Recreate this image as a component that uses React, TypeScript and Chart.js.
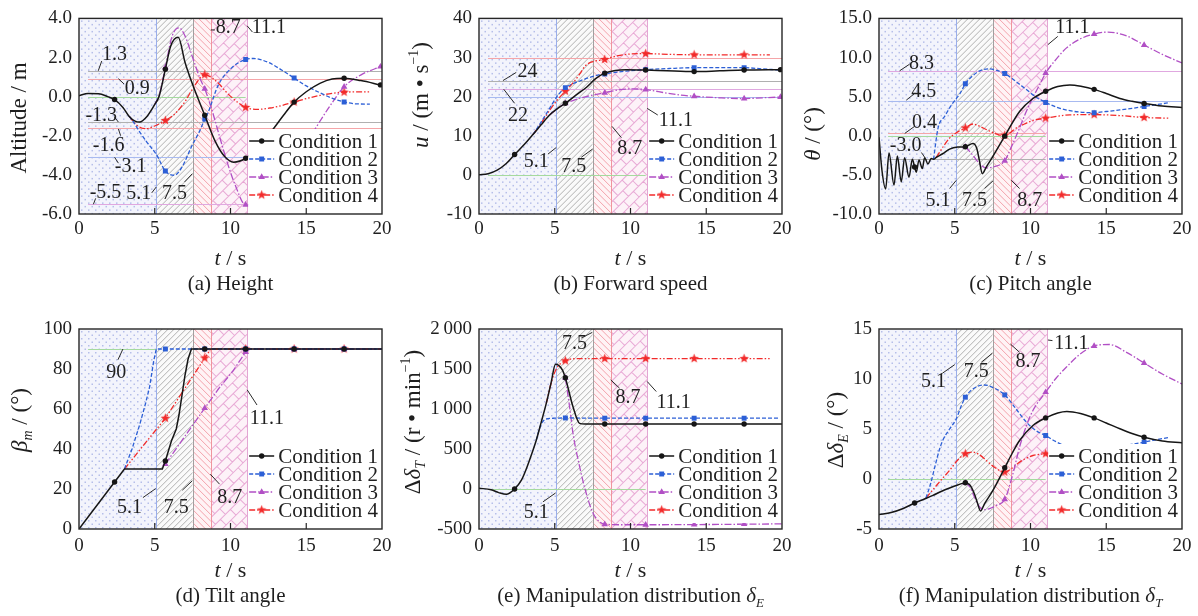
import React, { useEffect, useRef } from 'react';
import { Chart, registerables } from 'chart.js';

Chart.register(...registerables);

type P = [number, number];

/* ---------------- data ---------------- */
const tTicks = [0, 5, 10, 15, 20];
const phaseBounds = [0, 5.1, 7.5, 8.7, 11.1];
const markerTimes = [2.35, 5.7, 8.3, 11, 14.2, 17.5, 19.9];
const conditionNames = ['Condition 1', 'Condition 2', 'Condition 3', 'Condition 4'];
const refStart = 0.6;

// (a) Height
const heightC1: P[] = [[0, 0.05], [0.6, 0.16], [1.3, 0.15], [1.9, 0.0], [2.35, -0.15], [2.9, -0.55], [3.3, -1.0], [3.7, -1.25], [4.0, -1.3], [4.5, -1.0], [5.0, -0.4], [5.3, 0.05], [5.7, 1.4], [6.05, 2.58], [6.55, 3.03], [7.0, 1.75], [7.5, 0.62], [8.3, -0.95], [9.0, -2.3], [9.6, -3.05], [10.2, -3.35], [11, -3.15], [11.6, -2.7], [12.2, -2.2], [12.7, -1.77], [13.5, -0.95], [14.2, -0.28], [15.0, 0.25], [15.9, 0.68], [16.7, 0.9], [17.5, 0.94], [18.6, 0.82], [19.9, 0.6]];
const heightC2: P[] = [[3.3, -1.0], [3.6, -1.3], [4.0, -1.8], [4.5, -2.35], [5.1, -2.95], [5.7, -3.8], [6.3, -4.02], [6.8, -3.6], [7.4, -2.6], [8.0, -1.7], [8.3, -1.15], [8.5, -0.85], [9.2, 0.6], [10.1, 1.49], [11, 1.9], [11.5, 1.95], [12.5, 1.75], [13.4, 1.35], [14.2, 0.95], [15.0, 0.55], [15.9, 0.2], [16.7, -0.08], [17.5, -0.27], [18.3, -0.37], [19.2, -0.38]];
const heightC3: P[] = [[5.0, -0.4], [5.3, 0.1], [5.7, 1.5], [6.15, 3.1], [6.6, 3.52], [7.0, 3.1], [7.5, 2.0], [8.0, 0.9], [8.3, 0.4], [8.8, -0.75], [9.3, -2.1], [9.8, -3.4], [10.3, -4.5], [11, -5.53], [11.6, -5.5], [12.5, -5.1], [13.5, -4.3], [14.5, -3.1], [15.55, -1.7], [16.5, -0.55], [17.5, 0.5], [18.7, 1.15], [19.9, 1.53]];
const heightC4: P[] = [[3.3, -1.0], [3.8, -1.45], [4.4, -1.64], [5.0, -1.5], [5.7, -1.22], [6.3, -0.9], [7.0, -0.25], [7.5, 0.4], [8.3, 1.12], [8.8, 0.95], [9.25, 0.65], [9.7, 0.25], [10.1, -0.05], [11, -0.55], [11.8, -0.65], [12.6, -0.58], [13.4, -0.45], [14.2, -0.28], [15.0, -0.1], [15.9, 0.06], [16.7, 0.17], [17.5, 0.23], [18.4, 0.24], [19.2, 0.24]];
const heightRefs = [1.3, 0.9, 0, -1.3, -1.6, -3.1, -5.5];

// (b) Forward speed
const speedC1: P[] = [[0, 0], [0.6, 0.3], [1.2, 1.2], [1.8, 2.9], [2.35, 5.2], [3.0, 7.8], [3.56, 10.3], [4.1, 12.8], [4.66, 15.3], [5.2, 17.0], [5.7, 18.3], [6.4, 20.4], [7.1, 22.4], [7.7, 24.6], [8.3, 26.0], [9.0, 26.7], [9.7, 26.9], [11, 26.8], [12.4, 26.6], [14.2, 26.4], [15.9, 26.6], [17.5, 26.8], [19.9, 26.9]];
const speedC2: P[] = [[3.56, 10.3], [4.1, 13.5], [4.66, 17.0], [5.2, 20.3], [5.7, 22.3], [6.2, 23.3], [6.65, 24.0], [7.3, 24.9], [7.96, 25.6], [8.3, 25.8], [8.8, 26.1], [9.7, 26.5], [11, 26.9], [12.6, 27.2], [14.2, 27.4], [15.9, 27.4], [17.5, 27.4], [18.7, 27.1], [19.85, 26.8]];
const speedC3: P[] = [[4.66, 15.3], [5.2, 17.0], [5.7, 18.3], [6.2, 19.0], [6.65, 19.6], [7.4, 20.3], [8.3, 21.0], [9.2, 21.7], [10.1, 22.0], [11, 21.8], [12.4, 20.9], [13.3, 20.4], [14.2, 20.1], [15.9, 19.7], [17.5, 19.5], [18.7, 19.7], [19.9, 19.9]];
const speedC4: P[] = [[3.56, 10.3], [4.1, 13.2], [4.66, 16.5], [5.2, 19.3], [5.7, 21.4], [6.2, 23.5], [6.65, 25.8], [7.0, 27.8], [7.4, 28.8], [8.3, 29.5], [9.0, 30.3], [9.7, 30.8], [11, 31.0], [12.6, 30.8], [14.2, 30.7], [15.9, 30.7], [17.5, 30.7], [19.2, 30.7]];
const speedRefs = [30, 24, 22, 20, 0];

// (c) Pitch angle
const pitchC1: P[] = [[0, -0.2], [0.2, -4.5], [0.44, -6.8], [0.66, -2.2], [0.99, -6.3], [1.21, -2.6], [1.47, -5.9], [1.69, -2.8], [1.98, -5.3], [2.2, -3.0], [2.35, -4.0], [2.46, -4.65], [2.64, -3.1], [2.86, -4.2], [3.01, -2.8], [3.23, -3.6], [3.45, -2.9], [3.6, -3.0], [3.78, -2.77], [4.2, -2.3], [4.66, -1.7], [5.2, -1.45], [5.7, -1.4], [6.2, -1.0], [6.45, -1.6], [6.6, -2.9], [6.82, -4.85], [7.08, -4.0], [7.5, -2.7], [8.3, -0.05], [9.28, 3.1], [10.16, 4.76], [11, 5.68], [11.8, 6.3], [12.6, 6.5], [13.4, 6.3], [14.2, 5.93], [15.0, 5.4], [15.9, 4.76], [16.7, 4.4], [17.5, 4.13], [18.7, 3.8], [20, 3.6]];
const pitchC2: P[] = [[3.6, -3.0], [3.9, 1.0], [4.33, 2.46], [4.77, 3.9], [5.1, 4.76], [5.35, 5.4], [5.7, 6.64], [6.2, 7.7], [6.65, 8.3], [7.2, 8.55], [7.7, 8.4], [8.3, 7.95], [9.0, 7.0], [9.73, 5.9], [10.4, 4.9], [11, 4.26], [11.8, 3.6], [12.6, 3.2], [13.4, 3.0], [14.2, 2.95], [15.0, 3.1], [15.9, 3.3], [16.7, 3.5], [17.5, 3.75], [18.4, 4.0], [19.2, 4.25]];
const pitchC3: P[] = [[5.7, -1.4], [6.2, -2.5], [6.65, -3.6], [7.08, -4.1], [7.5, -4.0], [8.3, -3.2], [8.7, -1.6], [9.28, 1.0], [9.7, 3.0], [10.16, 4.9], [10.6, 6.5], [11, 8.0], [11.7, 9.8], [12.36, 11.2], [13.2, 12.3], [14.2, 13.0], [15.1, 13.25], [16.3, 12.8], [17.5, 11.6], [18.7, 10.4], [20, 9.3]];
const pitchC4: P[] = [[3.78, -2.77], [4.2, -1.5], [4.66, -0.3], [5.2, 0.5], [5.7, 1.0], [6.2, 1.5], [6.65, 1.2], [7.08, 0.8], [7.6, 0.35], [8.1, 0.03], [8.3, 0.06], [8.6, 0.3], [9.06, 1.0], [9.6, 1.5], [10.16, 1.96], [11, 2.25], [11.8, 2.5], [12.6, 2.67], [14.2, 2.7], [15.9, 2.58], [17.5, 2.33], [19.2, 2.25]];
const pitchRefs = [8.3, 4.5, 0.4, 0, -3.0];

// (d) Tilt angle
const tiltC1: P[] = [[0, 0], [2.35, 23.5], [3.0, 30], [5.5, 30], [5.7, 34], [6.1, 44], [6.42, 50], [6.6, 57], [6.82, 68], [7.0, 77], [7.2, 85], [7.42, 90], [8.3, 90], [11, 90], [14.2, 90], [17.5, 90], [20, 90]];
const tiltC2: P[] = [[3.0, 30], [3.5, 40], [4.0, 52], [4.4, 63], [4.66, 71], [4.93, 84], [5.1, 90], [5.7, 90], [8.3, 90], [11, 90], [14.2, 90], [17.5, 90], [20, 90]];
const tiltC3: P[] = [[5.7, 32.5], [7.0, 46.5], [8.3, 60.4], [9.2, 70], [10.16, 79], [11, 88.5], [11.3, 90], [14.2, 90], [17.5, 90], [20, 90]];
const tiltC4: P[] = [[3.0, 30], [5.7, 55.4], [8.3, 85.5], [8.7, 90], [11, 90], [14.2, 90], [17.5, 90], [20, 90]];
const tiltRefs = [90];

// (e) Manipulation distribution delta_E (throttle increment)
const distEC1: P[] = [[0, 10], [0.8, -10], [1.3, -45], [1.8, -67], [2.35, 0], [2.8, 110], [3.1, 240], [3.5, 450], [3.78, 610], [4.1, 830], [4.44, 1070], [4.75, 1320], [5.05, 1560], [5.5, 1490], [5.7, 1390], [6.2, 1030], [6.64, 820], [7.0, 812], [8.3, 812], [11, 812], [14.2, 812], [17.5, 812], [20, 812]];
const distEC2: P[] = [[3.78, 610], [4.0, 760], [4.2, 840], [4.44, 875], [5.0, 885], [5.7, 888], [8.3, 885], [11, 885], [14.2, 885], [17.5, 885], [19.85, 885]];
const distEC3: P[] = [[5.7, 1390], [6.0, 1000], [6.2, 700], [6.64, 280], [7.08, -56], [7.52, -300], [7.96, -410], [8.3, -441], [9.5, -447], [11, -447], [14.2, -445], [17.5, -440], [20, -436]];
const distEC4: P[] = [[4.44, 1070], [4.8, 1350], [5.1, 1500], [5.4, 1570], [5.7, 1603], [6.2, 1628], [7.0, 1630], [8.3, 1630], [11, 1630], [14.2, 1630], [17.5, 1630], [19.2, 1630]];
const distERefs = [0];

// (f) Manipulation distribution delta_T (elevator increment)
const distTC1: P[] = [[0, -3.55], [0.8, -3.35], [1.6, -2.95], [2.35, -2.4], [3.0, -2.0], [3.56, -1.64], [4.1, -1.25], [4.66, -0.9], [5.2, -0.6], [5.7, -0.37], [6.0, -0.6], [6.3, -1.5], [6.5, -2.4], [6.7, -3.2], [6.97, -2.47], [7.52, -1.14], [8.3, 1.12], [8.8, 2.6], [9.28, 3.85], [10.16, 5.35], [11, 6.11], [11.8, 6.6], [12.4, 6.75], [13.3, 6.55], [14.2, 6.11], [15.0, 5.6], [15.9, 5.02], [16.7, 4.55], [17.5, 4.18], [18.7, 3.8], [20, 3.62]];
const distTC2: P[] = [[3.1, -1.9], [3.4, -0.5], [3.7, 1.3], [4.0, 3.0], [4.22, 3.9], [4.66, 5.0], [5.1, 6.0], [5.4, 7.2], [5.7, 8.18], [6.3, 9.1], [6.97, 9.4], [7.6, 9.1], [8.3, 8.41], [9.0, 7.1], [9.73, 5.68], [10.4, 4.8], [11, 4.35], [11.6, 3.8], [12.15, 3.4], [13.2, 3.1], [14.2, 3.0], [15.5, 3.2], [16.8, 3.5], [17.5, 3.69], [18.4, 3.95], [19.2, 4.18]];
const distTC3: P[] = [[5.7, -0.37], [6.0, -0.8], [6.3, -1.8], [6.64, -2.8], [6.97, -3.07], [7.4, -2.9], [7.74, -2.64], [8.3, -2.04], [8.8, 0.3], [9.28, 3.2], [9.7, 5.2], [10.16, 6.85], [11, 8.68], [11.7, 10.1], [12.36, 11.17], [13.2, 12.4], [14.2, 13.3], [15.2, 13.45], [16.3, 12.7], [17.5, 11.6], [18.7, 10.5], [20, 9.5]];
const distTC4: P[] = [[3.1, -1.9], [3.6, -1.0], [4.1, -0.1], [4.66, 0.86], [5.2, 1.9], [5.7, 2.52], [6.2, 2.69], [6.65, 2.4], [7.08, 1.86], [7.6, 1.2], [8.3, 0.69], [8.8, 1.1], [9.28, 1.69], [9.7, 2.05], [10.16, 2.35], [11, 2.52], [12.0, 2.6], [14.2, 2.6], [17.5, 2.5], [19.2, 2.5]];
const distTRefs = [0];

/* ---------------- styles / config ---------------- */
const FONT = '"Liberation Serif", "DejaVu Serif", serif';
const INK = '#1f1f1f';
const GRAY = '#b0b0b0', PINK = '#f5a5a8', PURP = '#e0a8e0', BLUE = '#a8baf0', GREEN = '#a5da9e';
const PHASE_BG = ['#f3f4fc', '#fafafa', '#fff3f5', '#fdf2f8'];
const PHASE_INK = ['#b6bee9', '#b0b0b0', '#f3a2ab', '#e8a9d5'];
const PHASE_EDGE = ['#9aaeea', '#a0a0a0', '#f0959e', '#e3a6d3'];

let starCache: HTMLCanvasElement | null = null;
function starImage(): HTMLCanvasElement {
  if (starCache) return starCache;
  const c = document.createElement('canvas');
  c.width = 11; c.height = 11;
  const g = c.getContext('2d')!;
  g.fillStyle = '#f22a2a';
  g.beginPath();
  for (let k = 0; k < 10; k++) {
    const r = k % 2 ? 2.1 : 5;
    const a = -Math.PI / 2 + (k * Math.PI) / 5;
    const x = 5.5 + r * Math.cos(a), y = 5.5 + r * Math.sin(a);
    if (k) g.lineTo(x, y); else g.moveTo(x, y);
  }
  g.closePath(); g.fill();
  starCache = c;
  return c;
}

const SERIES = [
  { color: '#161616', dash: [] as number[], width: 1.5, r: 2.7 },
  { color: '#2c5fd6', dash: [4, 2], width: 1.3, r: 3.5 },
  { color: '#b14fc5', dash: [7, 2, 1.5, 2], width: 1.3, r: 3.8 },
  { color: '#f22a2a', dash: [6, 2, 1.5, 2, 1.5, 2], width: 1.3, r: 4 },
];

interface Seg { t: string; i?: boolean; sub?: boolean; sup?: boolean }
interface Note { text: string; a: P; b: P; at: P }
interface RefStyle { c: string; to: number }
interface PanelCfg {
  key: string; left: number; top: number; w: number; row: number;
  series: P[][]; linear?: boolean;
  yMin: number; yMax: number; yStep: number; fmt: (v: number) => string;
  refs: number[]; refStyle: RefStyle[]; notes: Note[];
  yTitle: Seg[]; yTitleAt: P; caption: Seg[];
}

const ROWS = [
  { top: 15, bottom: 214, xPad: 4, xTitle: 44, cap: 69 },
  { top: 21, bottom: 221, xPad: 6, xTitle: 41, cap: 66 },
];
const CANVAS_H = 308;
const PLOT_LEFT = 79, PLOT_RIGHT = 382;

const NEG = '-';
const SUP_MINUS = '\u2212';
const fmt1 = (v: number) => (v < 0 ? NEG : '') + Math.abs(v).toFixed(1);
const fmt0 = (v: number) => (v < 0 ? NEG : '') + String(Math.abs(Math.round(v)));
const fmtK = (v: number) => {
  const s = String(Math.abs(Math.round(v)));
  const g = s.length > 3 ? s.slice(0, -3) + '\u2009' + s.slice(-3) : s;
  return (v < 0 ? NEG : '') + g;
};

const PANELS: PanelCfg[] = [
  {
    key: 'a', left: 0, top: 0, w: 400, row: 0,
    series: [heightC1, heightC2, heightC3, heightC4],
    yMin: -6, yMax: 4, yStep: 2, fmt: fmt1,
    refs: heightRefs,
    refStyle: [{ c: GRAY, to: 20 }, { c: PINK, to: 20 }, { c: GREEN, to: 11 }, { c: GRAY, to: 20 }, { c: PINK, to: 20 }, { c: BLUE, to: 11 }, { c: PURP, to: 11 }],
    notes: [
      { text: '1.3', a: [1.27, 1.32], b: [1.5, 1.82], at: [2.35, 2.2] },
      { text: '0.9', a: [2.6, 0.92], b: [2.97, 0.65], at: [3.85, 0.48] },
      { text: NEG + '1.3', a: [2.35, -1.05], b: [2.6, -1.3], at: [1.47, -0.93] },
      { text: NEG + '1.6', a: [2.6, -1.65], b: [2.75, -2.0], at: [1.96, -2.44] },
      { text: NEG + '3.1', a: [2.35, -3.1], b: [2.6, -3.4], at: [3.41, -3.53] },
      { text: NEG + '5.5', a: [0.95, -5.5], b: [1.1, -5.2], at: [1.75, -4.86] },
      { text: '5.1', a: [4.8, -4.92], b: [5.1, -4.62], at: [3.95, -4.9] },
      { text: '7.5', a: [6.97, -4.36], b: [7.48, -3.94], at: [6.3, -4.9] },
      { text: '8.7', a: [8.7, 3.41], b: [8.97, 3.41], at: [9.85, 3.58] },
      { text: '11.1', a: [11.1, 3.62], b: [11.45, 3.3], at: [12.54, 3.58] },
    ],
    yTitle: [{ t: 'Altitude / m' }], yTitleAt: [18, 118],
    caption: [{ t: '(a) Height' }],
  },
  {
    key: 'b', left: 400, top: 0, w: 400, row: 0,
    series: [speedC1, speedC2, speedC3, speedC4],
    yMin: -10, yMax: 40, yStep: 10, fmt: fmt0,
    refs: speedRefs,
    refStyle: [{ c: PINK, to: 20 }, { c: GRAY, to: 20 }, { c: PURP, to: 20 }, { c: BLUE, to: 20 }, { c: GREEN, to: 11 }],
    notes: [
      { text: '24', a: [1.58, 24.1], b: [2.46, 26.2], at: [3.2, 26.6] },
      { text: '22', a: [1.63, 21.9], b: [2.35, 18.3], at: [2.57, 15.3] },
      { text: '5.1', a: [4.55, 5.3], b: [5.1, 7.0], at: [3.78, 3.6] },
      { text: '7.5', a: [6.75, 4.5], b: [7.5, 6.6], at: [6.25, 2.4] },
      { text: '8.7', a: [8.78, 12.4], b: [9.4, 9.5], at: [9.95, 7.0] },
      { text: '11.1', a: [11.1, 17.0], b: [11.8, 15.3], at: [13.0, 14.1] },
    ],
    yTitle: [{ t: 'u', i: true }, { t: ' / (m \u2022 s' }, { t: SUP_MINUS + '1', sup: true }, { t: ')' }], yTitleAt: [20, 95],
    caption: [{ t: '(b) Forward speed' }],
  },
  {
    key: 'c', left: 800, top: 0, w: 398, row: 0,
    series: [pitchC1, pitchC2, pitchC3, pitchC4],
    yMin: -10, yMax: 15, yStep: 5, fmt: fmt1,
    refs: pitchRefs,
    refStyle: [{ c: PURP, to: 20 }, { c: BLUE, to: 20 }, { c: PINK, to: 11 }, { c: GREEN, to: 11 }, { c: GRAY, to: 11 }],
    notes: [
      { text: '8.3', a: [1.36, 8.3], b: [2.02, 9.15], at: [2.8, 9.36] },
      { text: '4.5', a: [1.8, 4.55], b: [2.35, 5.4], at: [2.95, 5.7] },
      { text: '0.4', a: [1.7, 0.3], b: [2.35, 1.2], at: [3.0, 1.83] },
      { text: NEG + '3.0', a: [2.8, -2.14], b: [3.12, -3.05], at: [1.76, -1.1] },
      { text: '5.1', a: [4.66, -6.74], b: [5.1, -5.7], at: [3.9, -8.2] },
      { text: '7.5', a: [6.97, -6.74], b: [7.52, -5.78], at: [6.3, -8.2] },
      { text: '8.7', a: [8.73, -5.7], b: [9.28, -6.74], at: [9.95, -8.2] },
      { text: '11.1', a: [11.15, 11.65], b: [11.8, 12.7], at: [12.76, 13.95] },
    ],
    yTitle: [{ t: '\u03B8', i: true }, { t: ' / (\u00B0)' }], yTitleAt: [12, 134],
    caption: [{ t: '(c) Pitch angle' }],
  },
  {
    key: 'd', left: 0, top: 308, w: 400, row: 1, linear: true,
    series: [tiltC1, tiltC2, tiltC3, tiltC4],
    yMin: 0, yMax: 100, yStep: 20, fmt: fmt0,
    refs: tiltRefs,
    refStyle: [{ c: GREEN, to: 5.1 }],
    notes: [
      { text: '90', a: [2.9, 90], b: [2.57, 84.6], at: [2.46, 78.8] },
      { text: '5.1', a: [4.22, 15.7], b: [5.06, 20.2], at: [3.34, 11] },
      { text: '7.5', a: [6.82, 19.4], b: [7.48, 24.1], at: [6.42, 11] },
      { text: '8.7', a: [8.67, 27.4], b: [9.28, 22.4], at: [9.95, 16.05] },
      { text: '11.1', a: [11.1, 69.6], b: [11.75, 62], at: [12.4, 55.4] },
    ],
    yTitle: [{ t: '\u03B2', i: true }, { t: 'm', i: true, sub: true }, { t: ' / (\u00B0)' }], yTitleAt: [19, 112],
    caption: [{ t: '(d) Tilt angle' }],
  },
  {
    key: 'e', left: 400, top: 308, w: 400, row: 1,
    series: [distEC1, distEC2, distEC3, distEC4],
    yMin: -500, yMax: 2000, yStep: 500, fmt: fmtK,
    refs: distERefs,
    refStyle: [{ c: GREEN, to: 11 }],
    notes: [
      { text: '7.5', a: [6.75, 1887], b: [7.48, 1958], at: [6.3, 1824] },
      { text: '8.7', a: [8.69, 1365], b: [9.28, 1260], at: [9.83, 1155] },
      { text: '11.1', a: [11.1, 1344], b: [11.7, 1218], at: [12.85, 1093] },
      { text: '5.1', a: [4.22, -161], b: [5.06, -49], at: [3.78, -287] },
    ],
    yTitle: [{ t: '\u0394' }, { t: '\u03B4', i: true }, { t: 'T', i: true, sub: true }, { t: ' / (r \u2022 min' }, { t: SUP_MINUS + '1', sup: true }, { t: ')' }], yTitleAt: [12, 114],
    caption: [{ t: '(e) Manipulation distribution ' }, { t: '\u03B4', i: true }, { t: 'E', i: true, sub: true }],
  },
  {
    key: 'f', left: 800, top: 308, w: 398, row: 1,
    series: [distTC1, distTC2, distTC3, distTC4],
    yMin: -5, yMax: 15, yStep: 5, fmt: fmt0,
    refs: distTRefs,
    refStyle: [{ c: GREEN, to: 11 }],
    notes: [
      { text: '5.1', a: [4.18, 10.57], b: [5.0, 11.44], at: [3.6, 9.84] },
      { text: '7.5', a: [6.75, 11.67], b: [7.48, 12.57], at: [6.42, 10.84] },
      { text: '8.7', a: [8.67, 13.5], b: [9.28, 12.67], at: [9.83, 11.84] },
      { text: '11.1', a: [11.15, 13.9], b: [11.45, 13.84], at: [12.7, 13.67] },
    ],
    yTitle: [{ t: '\u0394' }, { t: '\u03B4', i: true }, { t: 'E', i: true, sub: true }, { t: ' / (\u00B0)' }], yTitleAt: [35, 122],
    caption: [{ t: '(f) Manipulation distribution ' }, { t: '\u03B4', i: true }, { t: 'T', i: true, sub: true }],
  },
];

/* ---------------- drawing helpers ---------------- */
function drawRich(ctx: CanvasRenderingContext2D, segs: Seg[], cx: number, cy: number, size: number, rot = false) {
  const small = Math.round(size * 0.62);
  const font = (s: Seg) => `${s.i ? 'italic ' : ''}${s.sub || s.sup ? small : size}px ${FONT}`;
  ctx.save();
  ctx.translate(cx, cy);
  if (rot) ctx.rotate(-Math.PI / 2);
  ctx.textAlign = 'left';
  ctx.textBaseline = 'alphabetic';
  ctx.fillStyle = INK;
  const ws = segs.map((s) => { ctx.font = font(s); return ctx.measureText(s.t).width; });
  let x = -ws.reduce((p, q) => p + q, 0) / 2;
  const base = size * 0.34;
  segs.forEach((s, k) => {
    ctx.font = font(s);
    const dy = s.sub ? size * 0.22 : s.sup ? -size * 0.42 : 0;
    ctx.fillText(s.t, x, base + dy);
    x += ws[k];
  });
  ctx.restore();
}

function drawMarker(ctx: CanvasRenderingContext2D, kind: number, x: number, y: number) {
  const st = SERIES[kind];
  ctx.save();
  ctx.setLineDash([]);
  ctx.fillStyle = st.color;
  if (kind === 0) {
    ctx.beginPath(); ctx.arc(x, y, st.r, 0, Math.PI * 2); ctx.fill();
  } else if (kind === 1) {
    const h = st.r * Math.SQRT1_2;
    ctx.fillRect(x - h, y - h, 2 * h, 2 * h);
  } else if (kind === 2) {
    const r = st.r;
    ctx.beginPath();
    ctx.moveTo(x, y - r);
    ctx.lineTo(x + r * 0.866, y + r * 0.5);
    ctx.lineTo(x - r * 0.866, y + r * 0.5);
    ctx.closePath(); ctx.fill();
  } else {
    const img = starImage();
    ctx.drawImage(img, x - img.width / 2, y - img.height / 2);
  }
  ctx.restore();
}

function drawPhases(chart: any) {
  const { ctx, chartArea: a, scales } = chart;
  const xs = scales.x;
  const H = a.bottom - a.top;
  for (let k = 0; k < 4; k++) {
    const x0 = xs.getPixelForValue(phaseBounds[k]);
    const x1 = xs.getPixelForValue(phaseBounds[k + 1]);
    ctx.save();
    ctx.beginPath(); ctx.rect(x0, a.top, x1 - x0, H); ctx.clip();
    ctx.fillStyle = PHASE_BG[k];
    ctx.fillRect(x0, a.top, x1 - x0, H);
    ctx.strokeStyle = PHASE_INK[k];
    ctx.fillStyle = PHASE_INK[k];
    ctx.lineWidth = 1;
    if (k === 0) {
      let j = 0;
      for (let yy = a.top + 2; yy < a.bottom; yy += 3.5, j++) {
        for (let xx = a.left + 2 + (j % 2) * 3.5; xx < x1; xx += 7) ctx.fillRect(xx, yy, 1.5, 1.5);
      }
    } else if (k === 1 || k === 2) {
      ctx.beginPath();
      const step = k === 1 ? 6 : 6.5;
      for (let s = x0 - H; s < x1 + H; s += step) {
        if (k === 1) { ctx.moveTo(s, a.bottom); ctx.lineTo(s + H, a.top); }
        else { ctx.moveTo(s, a.top); ctx.lineTo(s + H, a.bottom); }
      }
      ctx.stroke();
    } else {
      ctx.translate(x0, a.bottom);
      ctx.rotate(-Math.PI / 4);
      const D = H + (x1 - x0) + 30;
      const rh = 8, bw = 14;
      ctx.beginPath();
      for (let j = -Math.ceil(D / rh); j * rh < D; j++) {
        const yy = j * rh;
        ctx.moveTo(-D, yy); ctx.lineTo(D, yy);
        for (let xx = -D + ((j & 1) ? bw / 2 : 0); xx < D; xx += bw) { ctx.moveTo(xx, yy); ctx.lineTo(xx, yy + rh); }
      }
      ctx.stroke();
    }
    ctx.restore();
  }
  ctx.save();
  ctx.lineWidth = 1;
  for (let k = 1; k < phaseBounds.length; k++) {
    const px = Math.round(xs.getPixelForValue(phaseBounds[k])) + 0.5;
    ctx.strokeStyle = PHASE_EDGE[k - 1];
    ctx.beginPath(); ctx.moveTo(px, a.top); ctx.lineTo(px, a.bottom); ctx.stroke();
  }
  ctx.restore();
}

function makeDecor(cfg: PanelCfg) {
  const row = ROWS[cfg.row];
  return {
    id: 'decor',
    beforeDatasetsDraw(chart: any) {
      const { ctx, scales } = chart;
      drawPhases(chart);
      ctx.save();
      ctx.lineWidth = 1;
      cfg.refs.forEach((v, i) => {
        const st = cfg.refStyle[i];
        const py = Math.round(scales.y.getPixelForValue(v)) + 0.5;
        ctx.strokeStyle = st.c;
        ctx.beginPath();
        ctx.moveTo(scales.x.getPixelForValue(refStart), py);
        ctx.lineTo(scales.x.getPixelForValue(st.to), py);
        ctx.stroke();
      });
      ctx.restore();
    },
    afterDatasetsDraw(chart: any) {
      const { ctx, chartArea: a, scales } = chart;
      const xs = scales.x, ys = scales.y;
      ctx.save();
      const lx = xs.getPixelForValue(phaseBounds[4]) + 1;
      const rowY = (i: number) => a.bottom - 19 - 18 * (3 - i);
      ctx.fillStyle = '#ffffff';
      const boxTop = rowY(0) - 12;
      const boxBottom = a.bottom - 6;
      ctx.fillRect(lx, boxTop, a.right - lx, boxBottom - boxTop);
      conditionNames.forEach((name, i) => {
        const y = rowY(i);
        const st = SERIES[i];
        ctx.strokeStyle = st.color;
        ctx.lineWidth = st.width;
        ctx.setLineDash(st.dash);
        ctx.beginPath(); ctx.moveTo(lx + 1, y); ctx.lineTo(lx + 26, y); ctx.stroke();
        ctx.setLineDash([]);
        drawMarker(ctx, i, lx + 13.5, y);
        ctx.fillStyle = INK;
        ctx.font = `21px ${FONT}`;
        ctx.textAlign = 'left';
        ctx.textBaseline = 'middle';
        ctx.fillText(name, lx + 30, y + 1);
      });
      ctx.strokeStyle = '#2a2a2a';
      ctx.lineWidth = 1;
      ctx.font = `20px ${FONT}`;
      ctx.fillStyle = INK;
      ctx.textAlign = 'center';
      ctx.textBaseline = 'middle';
      cfg.notes.forEach((n) => {
        ctx.beginPath();
        ctx.moveTo(xs.getPixelForValue(n.a[0]), ys.getPixelForValue(n.a[1]));
        ctx.lineTo(xs.getPixelForValue(n.b[0]), ys.getPixelForValue(n.b[1]));
        ctx.stroke();
        ctx.fillText(n.text, xs.getPixelForValue(n.at[0]), ys.getPixelForValue(n.at[1]) + 1);
      });
      ctx.strokeStyle = '#262626';
      ctx.lineWidth = 1.4;
      ctx.strokeRect(a.left, a.top, a.right - a.left, a.bottom - a.top);
      ctx.lineWidth = 1.2;
      tTicks.slice(1, -1).forEach((t) => {
        const px = xs.getPixelForValue(t);
        ctx.beginPath(); ctx.moveTo(px, a.bottom); ctx.lineTo(px, a.bottom - 6); ctx.stroke();
      });
      ctx.restore();
      const cx = (a.left + a.right) / 2;
      drawRich(ctx, cfg.yTitle, cfg.yTitleAt[0], cfg.yTitleAt[1], 23, true);
      drawRich(ctx, [{ t: 't', i: true }, { t: ' / s' }], cx, a.bottom + row.xTitle, 22);
      drawRich(ctx, cfg.caption, cx, a.bottom + row.cap, 21);
    },
  };
}

function buildConfig(cfg: PanelCfg): any {
  const row = ROWS[cfg.row];
  const isMark = (t: number) => markerTimes.some((m) => Math.abs(m - t) < 1e-6);
  const pointStyles: any[] = ['circle', 'rect', 'triangle', starImage()];
  return {
    type: 'line',
    data: {
      datasets: cfg.series.map((pts, i) => ({
        label: conditionNames[i],
        data: pts.map(([x, y]) => ({ x, y })),
        borderColor: SERIES[i].color,
        backgroundColor: SERIES[i].color,
        borderWidth: SERIES[i].width,
        borderDash: SERIES[i].dash,
        pointStyle: pointStyles[i],
        pointRadius: pts.map(([x]) => (isMark(x) ? SERIES[i].r : 0)),
        pointHoverRadius: 0,
        pointBorderWidth: 0,
        cubicInterpolationMode: cfg.linear ? 'default' : 'monotone',
        tension: 0,
        fill: false,
      })),
    },
    options: {
      responsive: false,
      animation: false,
      events: [],
      layout: { padding: { top: row.top, right: cfg.w - PLOT_RIGHT, left: 0, bottom: 0 } },
      plugins: { legend: { display: false }, tooltip: { enabled: false } },
      scales: {
        x: {
          type: 'linear', min: tTicks[0], max: tTicks[tTicks.length - 1],
          ticks: { stepSize: 5, autoSkip: false, maxRotation: 0, padding: row.xPad, color: INK, font: { family: FONT, size: 19 } },
          grid: { display: false, drawTicks: false },
          border: { display: false },
          afterFit: (s: any) => { s.height = CANVAS_H - row.bottom; },
        },
        y: {
          type: 'linear', min: cfg.yMin, max: cfg.yMax,
          ticks: { stepSize: cfg.yStep, autoSkip: false, padding: 7, color: INK, font: { family: FONT, size: 19 }, callback: (v: any) => cfg.fmt(Number(v)) },
          grid: { display: false, drawTicks: false },
          border: { display: false },
          afterFit: (s: any) => { s.width = PLOT_LEFT; },
        },
      },
    },
    plugins: [makeDecor(cfg)],
  };
}

function Panel({ cfg }: { cfg: PanelCfg }) {
  const ref = useRef<HTMLCanvasElement>(null);
  useEffect(() => {
    if (!ref.current) return;
    const chart = new Chart(ref.current, buildConfig(cfg));
    return () => chart.destroy();
  }, [cfg]);
  return (
    <canvas
      ref={ref}
      width={cfg.w}
      height={CANVAS_H}
      style={{ position: 'absolute', left: cfg.left, top: cfg.top, width: cfg.w, height: CANVAS_H, display: 'block' }}
    />
  );
}

export default function App() {
  return (
    <div style={{ position: 'absolute', left: 0, top: 0, width: 1198, height: 616, background: '#ffffff', overflow: 'hidden' }}>
      {PANELS.map((p) => <Panel key={p.key} cfg={p} />)}
    </div>
  );
}
